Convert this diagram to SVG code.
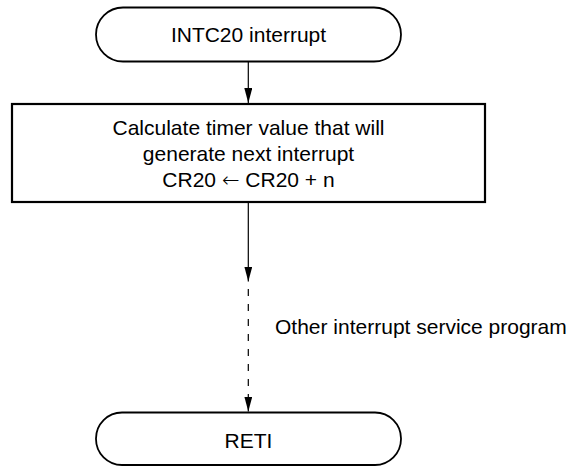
<svg xmlns="http://www.w3.org/2000/svg" width="574" height="466" viewBox="0 0 574 466">
<style>
text{font-family:"Liberation Sans",Arial,sans-serif;font-size:21px;fill:#000}
.c{text-anchor:middle}
.arr{font-family:"DejaVu Sans",sans-serif;font-weight:200}
.term{fill:#fff;stroke:#000;stroke-width:1.8}
.box{fill:#fff;stroke:#000;stroke-width:2.2}
.ln{stroke:#000;stroke-width:1.2;fill:none}
.dash{stroke-dasharray:7 8}
</style>
<defs>
<marker id="av" viewBox="0 0 8 15" markerWidth="8" markerHeight="15" refX="4" refY="15" orient="0" markerUnits="userSpaceOnUse">
<path d="M0,0 L4,15 L8,0 Z" fill="#000"/>
</marker>
</defs>
<g id="connectors">
<line class="ln" x1="248.3" y1="62" x2="248.3" y2="103" marker-end="url(#av)"/>
<line class="ln" x1="248.3" y1="203" x2="248.3" y2="281.5" marker-end="url(#av)"/>
<line class="ln dash" x1="248.3" y1="289" x2="248.3" y2="398"/>
<line class="ln" x1="248.3" y1="398" x2="248.3" y2="411.5" marker-end="url(#av)"/>
</g>
<g id="start">
<rect class="term" x="96" y="7.5" width="305" height="54" rx="27" ry="27"/>
<text class="c" x="248.5" y="42">INTC20 interrupt</text>
</g>
<g id="calc">
<rect class="box" x="12" y="104" width="473" height="98"/>
<text class="c" x="248.5" y="135">Calculate timer value that will</text>
<text class="c" x="248.5" y="161">generate next interrupt</text>
<text class="c" x="248.5" y="187">CR20 <tspan class="arr">←</tspan> CR20 + n</text>
</g>
<g id="label">
<text x="275" y="334">Other interrupt service program</text>
</g>
<g id="reti">
<rect class="term" x="96" y="412.5" width="305" height="52.5" rx="26" ry="26"/>
<text class="c" x="248.5" y="447.5">RETI</text>
</g>
</svg>
